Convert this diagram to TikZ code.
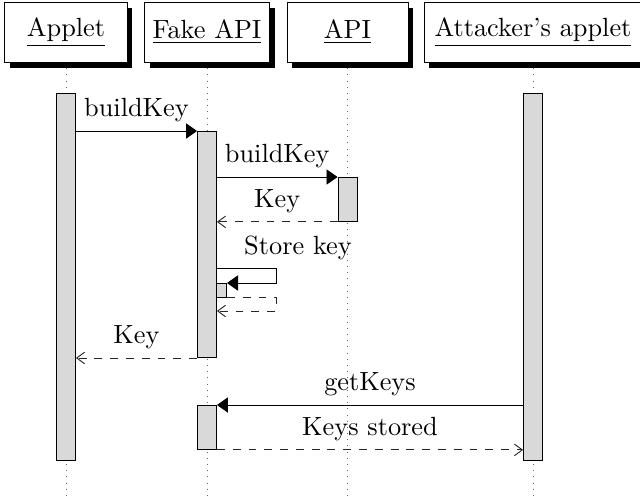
\documentclass[tikz,border=0pt]{standalone}
\usetikzlibrary{arrows.meta,shadows}
\begin{document}
\begin{tikzpicture}[x=0.38pt,y=-0.38pt, line width=0.35pt,
  hdr/.style={draw, fill=white, minimum height=22.8pt, inner sep=0pt,
    drop shadow={shadow xshift=2pt, shadow yshift=-2.2pt, fill=black, opacity=1}},
  actbar/.style={draw, fill=black!15, minimum width=7.2pt, inner sep=0pt, anchor=north},
  life/.style={dotted, black!60},
  call/.style={-{Triangle[length=4.2pt,width=5.8pt]}},
  reply/.style={dashed, black!85, -{Straight Barb[length=3pt,width=4.4pt]}}
]
\useasboundingbox (0,0) rectangle (640,495);
\clip (0,0) rectangle (640,495);

% lifeline ends
\coordinate (applet-foot) at (66,495);
\coordinate (fake-foot) at (207,495);
\coordinate (api-foot) at (347.5,495);
\coordinate (att-foot) at (533,495);

% lifelines (drawn first, so boxes and bars cover them)
\draw[life] (66,62) -- (applet-foot);
\draw[life] (207,62) -- (fake-foot);
\draw[life] (347.5,62) -- (api-foot);
\draw[life] (533,62) -- (att-foot);

% object headers
\node[hdr, minimum width=46.4pt] (applet) at (66,32) {\underline{Applet}};
\node[hdr, minimum width=47.5pt] (fake) at (207,32) {\underline{Fake API}};
\node[hdr, minimum width=46pt] (api) at (347.5,32) {\underline{API}};
\node[hdr, minimum width=82.8pt] (att) at (533,32) {\underline{Attacker's applet}};

% activation bars
\node[actbar, minimum height=139.5pt] (bA) at (66,93) {};
\node[actbar, minimum height=139.5pt] (bX) at (533,93) {};
\node[actbar, minimum height=85.9pt] (bF1) at (207,131) {};
\node[actbar, minimum height=16.7pt] (bAPI) at (347.5,177) {};
\node[actbar, minimum height=16.7pt] (bF2) at (207,405) {};
\node[actbar, minimum width=3.8pt, minimum height=5.3pt] (bS) at (221.5,283) {};

% messages
\draw[call] (bA.east |- bF1.north) -- node[above] {buildKey} (bF1.north west);
\draw[call] (bF1.east |- bAPI.north) -- node[above] {buildKey} (bAPI.north west);
\draw[reply] (bAPI.south west) -- node[above, black] {Key} (bF1.east |- bAPI.south);

% self call on the fake API
\coordinate (selfA) at (276,268);
\coordinate (selfB) at (276,311);
\draw[call] (bF1.east |- selfA) -- (selfA) |- (bS.north east);
\node[anchor=base] (storelbl) at (298,254) {Store key};
\draw[reply] (bS.south east) -| (selfB) -- (bF1.east |- selfB);

\draw[reply] (bF1.south west) -- node[above, black] {Key} (bA.east |- bF1.south);
\draw[call] (bX.west |- bF2.north) -- node[above] {getKeys} (bF2.north east);
\draw[reply] (bF2.south east) -- node[above, black] {Keys stored} (bX.west |- bF2.south);
\end{tikzpicture}
\end{document}
